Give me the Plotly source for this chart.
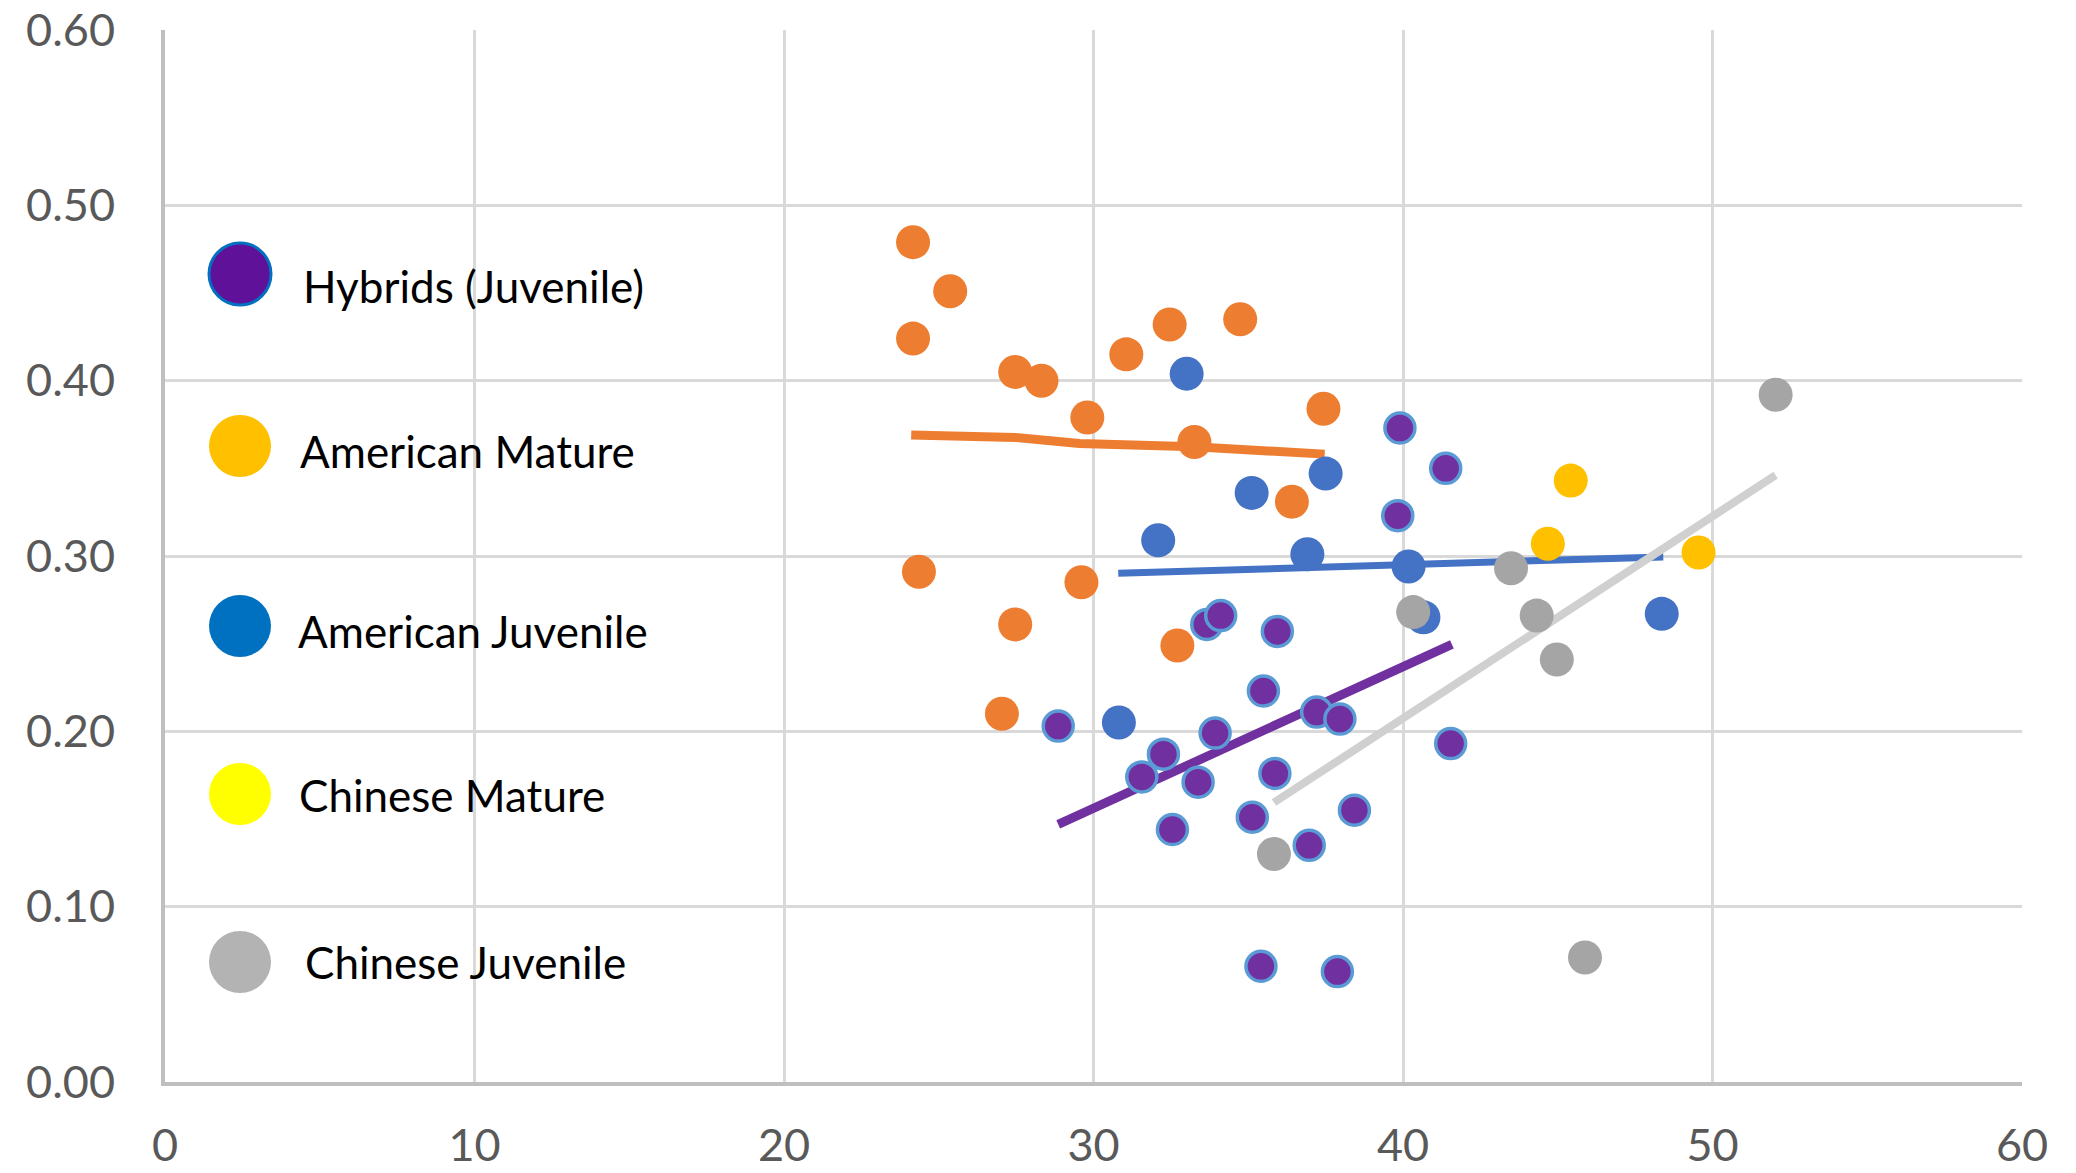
import plotly.graph_objects as go

# ---------------- data ----------------
orange_x = [24.17, 25.37, 24.17, 27.47, 28.32, 29.80, 31.06, 32.46, 34.74, 33.26,
            37.43, 36.41, 24.36, 29.61, 27.47, 32.71, 27.04]
orange_y = [0.479, 0.451, 0.424, 0.405, 0.400, 0.379, 0.415, 0.432, 0.435, 0.365,
            0.384, 0.331, 0.291, 0.285, 0.261, 0.249, 0.210]
orange_trend_x = [24.11, 27.47, 29.55, 33.26, 37.47]
orange_trend_y = [0.369, 0.3676, 0.3642, 0.3623, 0.3581]

blue_x = [33.01, 35.11, 37.50, 32.09, 36.91, 40.18, 30.82, 40.66, 48.36]
blue_y = [0.404, 0.336, 0.347, 0.309, 0.301, 0.294, 0.205, 0.265, 0.267]
blue_trend_x = [30.80, 48.41]
blue_trend_y = [0.2901, 0.2995]

purple_x = [39.90, 41.38, 39.83, 33.66, 34.11, 35.94, 35.49, 37.21, 37.96, 28.86,
            33.93, 32.26, 31.56, 33.38, 35.86, 41.54, 35.13, 32.55, 38.43, 36.97,
            35.41, 37.88]
purple_y = [0.373, 0.350, 0.323, 0.261, 0.266, 0.257, 0.223, 0.211, 0.207, 0.203,
            0.199, 0.187, 0.174, 0.171, 0.176, 0.193, 0.151, 0.144, 0.155, 0.135,
            0.066, 0.063]
purple_trend_x = [28.86, 41.58]
purple_trend_y = [0.1469, 0.2496]

gold_x = [45.42, 44.68, 49.55]
gold_y = [0.343, 0.307, 0.302]

gray_x = [52.04, 43.49, 40.33, 44.32, 44.97, 35.83, 45.88]
gray_y = [0.392, 0.293, 0.268, 0.266, 0.241, 0.130, 0.071]
gray_trend_x = [35.83, 52.04]
gray_trend_y = [0.1594, 0.3461]

x_ticks = [0, 10, 20, 30, 40, 50, 60]
y_ticks = [0.0, 0.1, 0.2, 0.3, 0.4, 0.5, 0.6]

legend_labels = ["Hybrids (Juvenile)", "American Mature", "American Juvenile",
                 "Chinese Mature", "Chinese Juvenile"]
legend_colors = ["#5F1299", "#FFC000", "#0070C0", "#FFFF00", "#B3B3B3"]
legend_outline = ["#0070C0", "#FFC000", "#0070C0", "#FFFF00", "#B3B3B3"]

# ---------------- figure ----------------
W, H = 2076, 1173
ML, MR, MT, MB = 165, 54, 30, 91
PW, PH = W - ML - MR, H - MT - MB

fig = go.Figure()

# trend lines
for tx, ty, col, w in [(orange_trend_x, orange_trend_y, "#ED7D31", 9),
                       (blue_trend_x, blue_trend_y, "#4472C4", 7),
                       (purple_trend_x, purple_trend_y, "#7030A0", 9),
                       (gray_trend_x, gray_trend_y, "#D0D0D0", 8)]:
    fig.add_trace(go.Scatter(x=tx, y=ty, mode="lines",
                             line=dict(color=col, width=w),
                             showlegend=False, hoverinfo="skip"))

MS = 34
fig.add_trace(go.Scatter(x=orange_x, y=orange_y, mode="markers", name="Orange",
                         marker=dict(size=MS, color="#ED7D31", line=dict(width=0)),
                         showlegend=False))
fig.add_trace(go.Scatter(x=blue_x, y=blue_y, mode="markers", name="Blue",
                         marker=dict(size=MS, color="#4472C4", line=dict(width=0)),
                         showlegend=False))
fig.add_trace(go.Scatter(x=purple_x, y=purple_y, mode="markers", name="Hybrids (Juvenile)",
                         marker=dict(size=30, color="#7030A0",
                                     line=dict(width=3.5, color="#5B9BD5")),
                         showlegend=False))
fig.add_trace(go.Scatter(x=gold_x, y=gold_y, mode="markers", name="Gold",
                         marker=dict(size=MS, color="#FFC000", line=dict(width=0)),
                         showlegend=False))
fig.add_trace(go.Scatter(x=gray_x, y=gray_y, mode="markers", name="Gray",
                         marker=dict(size=MS, color="#A5A5A5", line=dict(width=0)),
                         showlegend=False))

# custom legend (pixel positions inside plot area)
leg_cx = 240
leg_cy = [274, 446, 626, 794, 962]
leg_tx = [301, 298, 296, 297, 303]
leg_ty = [286, 451, 631, 795, 962]
R = 31
shapes = []
annotations = []
for i, lab in enumerate(legend_labels):
    xa = (leg_cx - ML) / PW
    ya = (H - MB - leg_cy[i]) / PH
    shapes.append(dict(type="circle", xref="paper", yref="paper",
                       xsizemode="pixel", ysizemode="pixel",
                       xanchor=xa, yanchor=ya, x0=-R, x1=R, y0=-R, y1=R,
                       fillcolor=legend_colors[i],
                       line=dict(color=legend_outline[i], width=3 if i == 0 else 0)))
    annotations.append(dict(text=lab, xref="paper", yref="paper",
                            x=(leg_tx[i] - ML) / PW, y=(H - MB - leg_ty[i]) / PH,
                            xanchor="left", yanchor="middle", showarrow=False,
                            font=dict(family="Lato", size=44, color="#000000")))

tickfont = dict(family="Lato", size=45, color="#595959")
fig.update_layout(
    width=W, height=H,
    margin=dict(l=ML, r=MR, t=MT, b=MB),
    paper_bgcolor="white", plot_bgcolor="white",
    shapes=shapes, annotations=annotations,
    xaxis=dict(range=[0, 60], tickvals=x_ticks, showgrid=True, gridcolor="#D9D9D9",
               gridwidth=3, showline=True, linecolor="#BFBFBF", linewidth=4,
               zeroline=False, ticks="", tickfont=tickfont, ticklabelstandoff=21,
               automargin=False),
    yaxis=dict(range=[0, 0.6], tickvals=y_ticks, tickformat=".2f", showgrid=True,
               gridcolor="#D9D9D9", gridwidth=3, showline=True, linecolor="#BFBFBF",
               linewidth=4, zeroline=False, ticks="", tickfont=tickfont,
               ticklabelstandoff=37, automargin=False),
)

fig.write_html("out.html")
